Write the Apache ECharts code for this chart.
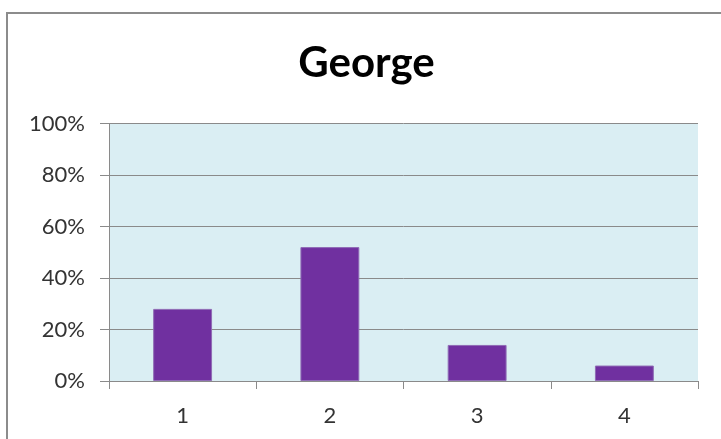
<!DOCTYPE html>
<html>
<head>
<meta charset="utf-8">
<script src="https://cdn.jsdelivr.net/npm/echarts@6/dist/echarts.min.js"></script>
<style>
  html, body { margin: 0; padding: 0; background: #ffffff; }
  #chart { width: 721px; height: 439px; }
</style>
</head>
<body>
<div id="chart"></div>
<script>
// Share of responses per answer option
const categories = ['1', '2', '3', '4'];
const shares = [28, 52, 14, 6];
const yTicks = [0, 20, 40, 60, 80, 100];
const chartTitle = 'George';

const font = 'Lato, "Open Sans", sans-serif';
const lineGray = '#8a8a8a';

const chart = echarts.init(document.getElementById('chart'), null, { renderer: 'canvas' });

chart.setOption({
  animation: false,
  backgroundColor: '#ffffff',
  graphic: [
    {
      type: 'rect',
      shape: { x: 7, y: 13, width: 740, height: 460 },
      style: { fill: 'none', stroke: '#8c8c8c', lineWidth: 2 },
      silent: true,
      z: 100
    },
    {
      type: 'text',
      x: 366.5,
      y: 42,
      style: {
        text: chartTitle,
        font: 'bold 42px ' + font,
        fill: '#000000',
        textAlign: 'center',
        textVerticalAlign: 'top'
      }
    }
  ],
  grid: {
    left: 109,
    right: 23,
    top: 123.5,
    bottom: 58,
    show: true,
    backgroundColor: '#DAEEF3',
    borderWidth: 0
  },
  xAxis: {
    type: 'category',
    data: categories,
    axisLine: { show: true, lineStyle: { color: lineGray, width: 1 } },
    axisTick: { show: true, length: 8, alignWithLabel: false, lineStyle: { color: lineGray } },
    axisLabel: { color: '#333333', fontFamily: font, fontSize: 22, margin: 24 },
    splitLine: { show: false }
  },
  yAxis: {
    type: 'value',
    min: yTicks[0],
    max: yTicks[yTicks.length - 1],
    interval: yTicks[1] - yTicks[0],
    axisLine: { show: true, lineStyle: { color: lineGray, width: 1 } },
    axisTick: { show: true, length: 9, lineStyle: { color: lineGray } },
    axisLabel: {
      color: '#333333',
      fontFamily: font,
      fontSize: 22,
      margin: 24,
      formatter: v => v + '%'
    },
    splitLine: { show: true, lineStyle: { color: lineGray, width: 1 } }
  },
  series: [{
    type: 'bar',
    data: shares,
    barWidth: '40%',
    itemStyle: { color: '#7030A0', borderColor: '#8f6bb5', borderWidth: 1 }
  }]
});
</script>
</body>
</html>
